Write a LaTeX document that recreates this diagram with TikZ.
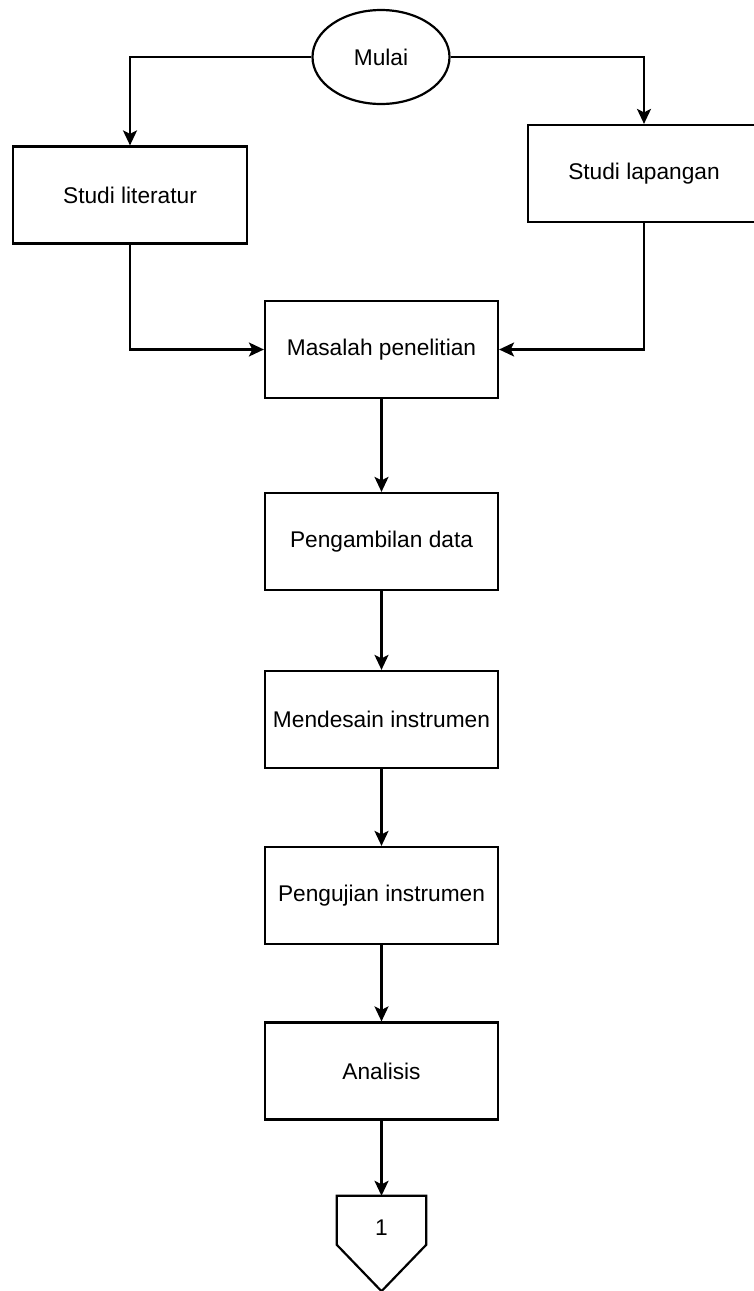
\documentclass[tikz,border=0pt]{standalone}
\usepackage{fontspec}
\setmainfont{Liberation Sans}
\usetikzlibrary{arrows.meta,shapes.geometric,calc}

\begin{document}
\begin{tikzpicture}[x=1pt,y=-1pt,
  every node/.style={font=\fontsize{22.7}{27}\selectfont},
  procbox/.style={draw, line width=2.2pt, rectangle, inner sep=0pt,
    minimum width=233pt, minimum height=97pt},
  startnode/.style={draw, line width=2.2pt, ellipse, inner sep=0pt,
    minimum width=137pt, minimum height=94pt},
  flow/.style={line width=2.2pt, -{Stealth[length=15pt,width=14pt,inset=3.5pt]}}
]
\useasboundingbox (0,0) rectangle (754,1291);
\clip (0,0) rectangle (754,1291);

% start
\node[startnode] (mulai) at (381,57) {Mulai};

% two parallel studies
\node[procbox, minimum width=234pt] (lit) at (130,195) {Studi literatur};
\node[procbox, minimum width=232pt] (lap) at (644,173.5) {Studi lapangan};

% main sequence
\node[procbox] (masalah) at (381.5,349.5) {Masalah penelitian};
\node[procbox] (data)    at (381.5,541.5) {Pengambilan data};
\node[procbox] (desain)  at (381.5,719.5) {Mendesain instrumen};
\node[procbox] (uji)     at (381.5,895.5) {Pengujian instrumen};
\node[procbox] (analisis) at (381.5,1071) {Analisis};

% off-page connector
\node[minimum width=89pt, minimum height=95pt, inner sep=0pt] (con) at (381.5,1243.5) {};
\draw[line width=2.2pt, line join=miter]
  (con.north west) -- (con.north east) -- ($(con.north east)+(0,49)$)
  -- (con.south) -- ($(con.north west)+(0,49)$) -- cycle;
\node (conlabel) at (381.5,1228) {1};

% connectors
\draw[flow] (mulai.west) -| (lit.north);
\draw[flow] (mulai.east) -| (lap.north);
\draw[flow] (lit.south) |- (masalah.west);
\draw[flow] (lap.south) |- (masalah.east);
\draw[flow] (masalah.south) -- (data.north);
\draw[flow] (data.south) -- (desain.north);
\draw[flow] (desain.south) -- (uji.north);
\draw[flow] (uji.south) -- (analisis.north);
\draw[flow] (analisis.south) -- (con.north);
\end{tikzpicture}
\end{document}
